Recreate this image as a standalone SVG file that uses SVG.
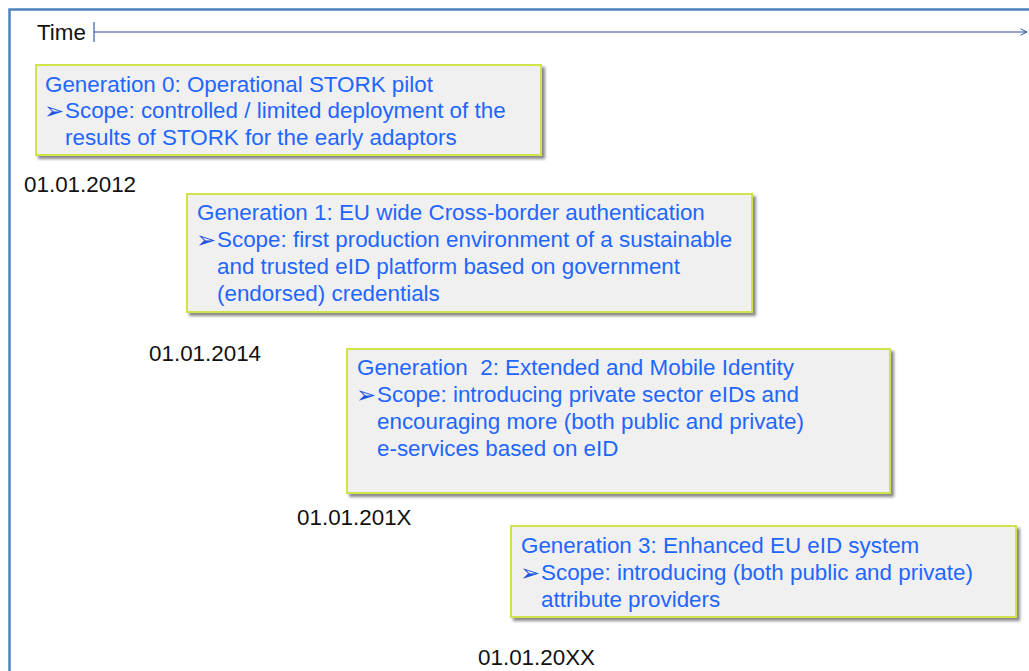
<svg xmlns="http://www.w3.org/2000/svg" width="1029" height="671" viewBox="0 0 1029 671">
<defs>
<filter id="sh" x="-5%" y="-10%" width="115%" height="130%">
<feDropShadow dx="3" dy="3" stdDeviation="1.5" flood-color="#7a7a7a" flood-opacity="0.9"/>
</filter>
<marker id="arr" viewBox="0 0 10 10" refX="9" refY="5" markerWidth="8" markerHeight="10" markerUnits="userSpaceOnUse" orient="auto">
<path d="M1,1 L9,5 L1,9" fill="none" stroke="#2a4a9a" stroke-width="1.2"/>
</marker>
<style>
.box{fill:#f0f0f0;stroke:#d2e24a;stroke-width:2;filter:url(#sh)}
.t{font-family:"Liberation Sans",Arial,sans-serif;font-size:22.4px;fill:#1f66ff;white-space:pre}
.b{font-family:"DejaVu Sans",sans-serif;font-size:24px;fill:#1f55e0}
.d{font-family:"Liberation Sans",Arial,sans-serif;font-size:22.4px;fill:#111}
</style>
</defs>
<rect x="9.5" y="9.5" width="1030" height="680" fill="#fff" stroke="#4f81bd" stroke-width="2.5"/>
<text class="d" x="37" y="40">Time</text>
<g id="connectors">
<line x1="94" y1="22" x2="94" y2="42" stroke="#3a5a9f" stroke-width="1.2"/>
<line x1="94" y1="32" x2="1027" y2="32" stroke="#2a4a9a" stroke-width="1.2" marker-end="url(#arr)"/>
</g>
<g id="gen0">
<rect class="box" x="36" y="65" width="505" height="90"/>
<text class="t" x="45" y="92">Generation 0: Operational STORK pilot</text>
<text class="b" x="44" y="119">➢</text>
<text class="t" x="65" y="118">Scope: controlled / limited deployment of the</text>
<text class="t" x="65" y="145">results of STORK for the early adaptors</text>
</g>
<g id="gen1">
<rect class="box" x="187" y="194" width="565" height="118"/>
<text class="t" x="197" y="220">Generation 1: EU wide Cross-border authentication</text>
<text class="b" x="196" y="248">➢</text>
<text class="t" x="217" y="247">Scope: first production environment of a sustainable</text>
<text class="t" x="217" y="274">and trusted eID platform based on government</text>
<text class="t" x="217" y="301">(endorsed) credentials</text>
</g>
<g id="gen2">
<rect class="box" x="347" y="349" width="543" height="144"/>
<text class="t" x="357" y="375">Generation  2: Extended and Mobile Identity</text>
<text class="b" x="356" y="403">➢</text>
<text class="t" x="377" y="402">Scope: introducing private sector eIDs and</text>
<text class="t" x="377" y="429">encouraging more (both public and private)</text>
<text class="t" x="377" y="456">e-services based on eID</text>
</g>
<g id="gen3">
<rect class="box" x="511" y="526" width="505" height="91"/>
<text class="t" x="521" y="553">Generation 3: Enhanced EU eID system</text>
<text class="b" x="520" y="581">➢</text>
<text class="t" x="541" y="580">Scope: introducing (both public and private)</text>
<text class="t" x="541" y="607">attribute providers</text>
</g>
<g id="dates">
<text class="d" x="24" y="192">01.01.2012</text>
<text class="d" x="149" y="361">01.01.2014</text>
<text class="d" x="297" y="525">01.01.201X</text>
<text class="d" x="478" y="665">01.01.20XX</text>
</g>
</svg>
